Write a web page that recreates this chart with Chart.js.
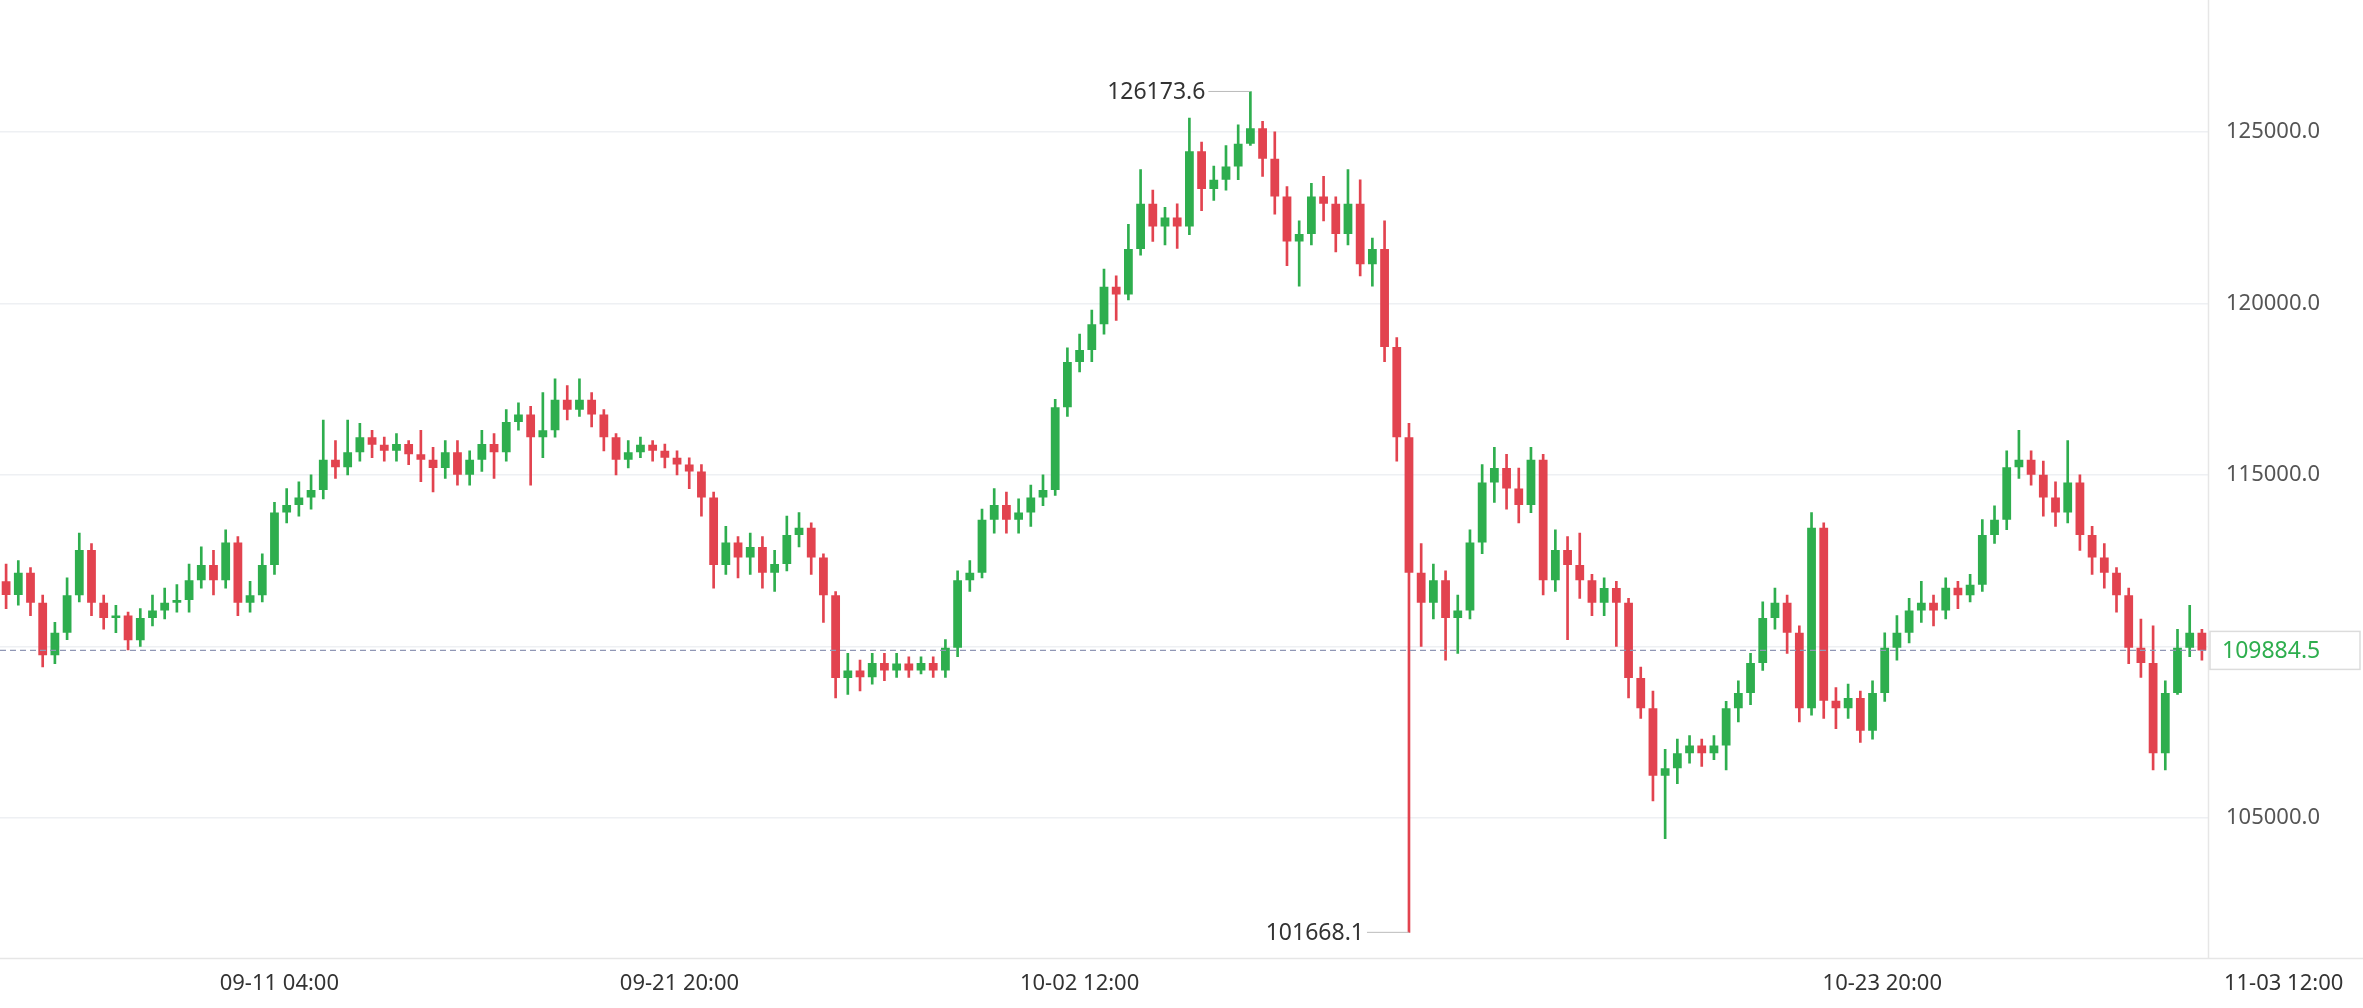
<!DOCTYPE html>
<html><head><meta charset="utf-8">
<script src="https://cdn.jsdelivr.net/npm/chart.js@4"></script>
<style>html,body{margin:0;padding:0;background:#fff}#w{width:2363px;height:1008px}</style>
</head><body><div id="w"><canvas id="c"></canvas></div>
<script>
const firstOpen = 111900;
const closes = [111500,112150,111270,109740,110400,111490,112810,111270,110830,110900,110180,110830,111050,111270,111350,111930,112370,111930,113030,111270,111490,112370,113900,114120,114340,114560,115440,115220,115660,116100,115880,115700,115900,115600,115440,115200,115660,115000,115440,115900,115660,116540,116760,116100,116300,117190,116900,117190,116760,116100,115440,115660,115880,115700,115500,115300,115100,114340,112370,113030,112590,112900,112150,112400,113250,113460,112590,111490,109080,109300,109100,109520,109300,109500,109300,109520,109300,109960,111930,112150,113690,114120,113690,113900,114340,114560,116970,118290,118640,119390,120480,120260,121580,122900,122240,122500,122240,124430,123330,123600,123990,124650,125100,124210,123110,121800,122020,123110,122900,122020,122900,121140,121580,118730,116100,112150,111270,111930,110830,111050,113030,114780,115200,114600,114120,115440,111930,112810,112370,111930,111270,111700,111270,109080,108200,106230,106450,106890,107110,106890,107110,108200,108640,109520,110830,111270,110400,108200,113460,108420,108200,108500,107540,108640,109960,110400,111050,111270,111050,111710,111490,111800,113250,113690,115220,115440,115000,114340,113900,114780,113250,112590,112150,111490,109960,109520,106890,108640,109960,110400,109884.5];
const highs = [112400,112500,112300,111500,110700,112000,113300,113000,111500,111200,111000,111100,111500,111700,111800,112400,112900,112800,113400,113200,111900,112700,114200,114600,114800,115000,116600,116000,116600,116500,116300,116100,116200,116000,116300,115800,116000,116000,115700,116300,116200,116900,117100,117000,117400,117800,117600,117800,117400,116900,116200,116000,116100,116000,115900,115700,115500,115300,114500,113500,113200,113300,113200,112800,113800,113900,113600,112700,111600,109800,109600,109800,109800,109800,109700,109700,109700,110200,112200,112500,114000,114600,114500,114300,114700,115000,117200,118700,119100,119800,121000,120800,122300,123900,123300,122800,122900,125400,124700,124000,124600,125200,126173.6,125300,125000,123400,122400,123500,123700,123100,123900,123600,121900,122400,119000,116500,113000,112400,112200,111500,113400,115300,115800,115600,115200,115800,115600,113400,113200,113300,112100,112000,111900,111400,109400,108700,107000,107300,107400,107300,107400,108400,109000,109800,111300,111700,111500,110600,113900,113600,108800,108900,108700,109000,110400,110900,111400,111900,111500,112000,111900,112100,113700,114100,115700,116300,115700,115400,114800,116000,115000,113500,113000,112300,111700,110800,110600,109000,110500,111200,110500];
const lows = [111100,111200,110900,109400,109500,110200,111300,110900,110500,110400,109900,110000,110600,110800,111000,111000,111700,111500,111700,110900,111000,111300,112100,113600,113800,114000,114300,114900,115000,115400,115500,115400,115400,115300,114800,114500,114900,114700,114700,115100,114900,115400,116300,114700,115500,116100,116600,116700,116400,115700,115000,115200,115500,115400,115200,115000,114600,113800,111700,112100,112000,112100,111700,111600,112200,112900,112100,110700,108500,108600,108700,108900,109000,109100,109100,109200,109100,109100,109700,111600,112000,113300,113300,113300,113500,114100,114400,116700,118000,118300,119100,119500,120100,121400,121800,121700,121600,122000,122700,123000,123300,123600,124600,123700,122600,121100,120500,121700,122400,121500,121700,120800,120500,118300,115400,101668.1,110000,110800,109600,109800,110800,112700,114200,114000,113600,113900,111500,111600,110200,111400,110900,110900,110000,108500,107900,105500,104400,106000,106600,106500,106700,106400,107800,108300,109300,110500,109800,107800,108000,107900,107600,107900,107200,107300,108400,109600,110100,110700,110600,110800,111100,111300,111600,113000,113400,114900,114700,113800,113500,113600,112800,112100,111700,111000,109500,109100,106400,106400,108600,109700,109600];
const yTicks = [105000,110000,115000,120000,125000];
const xTickIdx = [22.4,55.2,88.0,153.8,186.7];
const xTickLabels = ['09-11 04:00','09-21 20:00','10-02 12:00','10-23 20:00','11-03 12:00'];
const lastPrice = 109884.5;
const maxLabel = '126173.6', minLabel = '101668.1';

const opens = closes.map((c,i)=> i===0 ? firstOpen : closes[i-1]);
const labels = closes.map((c,i)=>i);
const G='#2eae4e', R='#e2434f';
const col = closes.map((c,i)=> c>=opens[i]?G:R);

const plug = {
  id:'deco',
  afterDraw(ch){
    const c=ch.ctx, x=ch.scales.x, y=ch.scales.y, a=ch.chartArea;
    c.save();
    c.strokeStyle='#e6e6e6'; c.lineWidth=1.5;
    c.beginPath(); c.moveTo(a.right+0.5,0); c.lineTo(a.right+0.5,a.bottom); c.stroke();
    c.beginPath(); c.moveTo(0,a.bottom+0.5); c.lineTo(2363,a.bottom+0.5); c.stroke();
    c.font='22px "Noto Sans", sans-serif'; c.fillStyle='#333'; c.textAlign='center'; c.textBaseline='middle';
    xTickIdx.forEach((v,i)=>{ c.fillText(xTickLabels[i], x.getPixelForValue(v), 984); });
    const py=y.getPixelForValue(lastPrice);
    c.setLineDash([6,4]); c.strokeStyle='#9097b5'; c.lineWidth=1.2;
    c.beginPath(); c.moveTo(0,py); c.lineTo(a.right,py); c.stroke(); c.setLineDash([]);
    c.fillStyle='#fff'; c.strokeStyle='#dcdcdc'; c.lineWidth=1.5;
    c.fillRect(a.right+2,py-19,150,38); c.strokeRect(a.right+2,py-19,150,38);
    c.fillStyle=G; c.textAlign='left'; c.font='23px "Noto Sans", sans-serif';
    c.fillText(lastPrice.toFixed(1), a.right+14, py+1);
    let iMax=highs.indexOf(Math.max(...highs)), iMin=lows.indexOf(Math.min(...lows));
    c.fillStyle='#333'; c.textAlign='right'; c.strokeStyle='#bbb'; c.lineWidth=1; c.font='23px "Noto Sans", sans-serif';
    let hx=x.getPixelForValue(iMax), hy=y.getPixelForValue(highs[iMax]);
    c.beginPath(); c.moveTo(hx-42,hy); c.lineTo(hx,hy); c.stroke();
    c.fillText(maxLabel, hx-45, hy+1);
    let lx=x.getPixelForValue(iMin), ly=y.getPixelForValue(lows[iMin]);
    c.beginPath(); c.moveTo(lx-42,ly); c.lineTo(lx,ly); c.stroke();
    c.fillText(minLabel, lx-45, ly+1);
    c.restore();
  }
};

new Chart(document.getElementById('c'),{
  type:'bar',
  data:{labels,datasets:[
    {data:closes.map((c,i)=>[lows[i],highs[i]]),backgroundColor:col,barThickness:2,grouped:false,order:2},
    {data:closes.map((c,i)=>{let o=opens[i];if(Math.abs(o-c)<60){return [c-40,c+40];}return [o,c];}),backgroundColor:col,barPercentage:0.72,categoryPercentage:1,grouped:false,order:1}
  ]},
  options:{
    responsive:true,maintainAspectRatio:false,animation:false,
    layout:{padding:{left:0,right:0,top:0,bottom:50}},
    plugins:{legend:{display:false},tooltip:{enabled:false}},
    scales:{
      x:{display:false,grid:{display:false}},
      y:{position:'right',min:100920,max:127930,
        afterFit(s){s.width=155;},
        afterBuildTicks(s){s.ticks=yTicks.map(v=>({value:v}));},
        border:{display:false},
        grid:{color:'#eef0f3',lineWidth:1.5,drawTicks:false},
        ticks:{padding:18,color:'#555',font:{size:22,family:'"Noto Sans", sans-serif'},callback:v=>Number(v).toFixed(1)}
      }
    }
  },
  plugins:[plug]
});
</script></body></html>
